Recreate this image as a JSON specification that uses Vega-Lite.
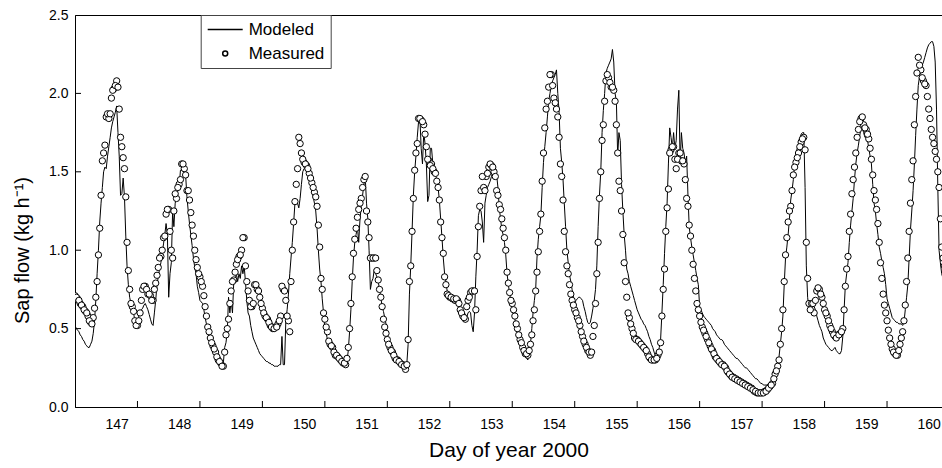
{
"$schema": "https://vega.github.io/schema/vega-lite/v6.json",
"width": 867, "height": 392,
"autosize": {"type": "none"},
"padding": {"left": 75, "top": 15, "right": 0, "bottom": 61},
"background": "white",
"config": {"font": "Liberation Sans", "view": {"stroke": "black", "strokeWidth": 1},
  "axis": {"domainColor": "black", "labelColor": "black", "titleColor": "black", "titleFontWeight": "normal", "labelFontSize": 14, "domainWidth": 1, "ticks": false, "grid": false}},
"data": {"values": [
{"t":146.000,"a":0.52,"b":0.71},{"t":146.042,"a":0.49,"b":0.69},{"t":146.083,"a":0.46,"b":0.66},{"t":146.125,"a":0.43,"b":0.64},{"t":146.167,"a":0.40,"b":0.61},{"t":146.208,"a":0.38,"b":0.58},{"t":146.250,"a":0.40,"b":0.54},{"t":146.292,"a":0.47,"b":0.57},{"t":146.333,"a":0.68,"b":0.70},{"t":146.375,"a":1.00,"b":0.97},{"t":146.417,"a":1.30,"b":1.35},{"t":146.458,"a":1.50,"b":1.62},{"t":146.500,"a":1.52,"b":1.85},{"t":146.542,"a":1.66,"b":1.84},{"t":146.583,"a":1.78,"b":1.97},{"t":146.625,"a":1.85,"b":2.03},{"t":146.667,"a":1.92,"b":2.08},{"t":146.708,"a":1.60,"b":1.90},{"t":146.750,"a":1.36,"b":1.66},{"t":146.792,"a":1.34,"b":1.52},{"t":146.833,"a":0.90,"b":1.05},{"t":146.875,"a":0.70,"b":0.75},{"t":146.917,"a":0.62,"b":0.64},{"t":146.958,"a":0.55,"b":0.55},
{"t":147.000,"a":0.53,"b":0.52},{"t":147.042,"a":0.60,"b":0.60},{"t":147.083,"a":0.63,"b":0.75},{"t":147.125,"a":0.66,"b":0.77},{"t":147.167,"a":0.62,"b":0.72},{"t":147.208,"a":0.56,"b":0.71},{"t":147.250,"a":0.52,"b":0.68},{"t":147.292,"a":0.68,"b":0.79},{"t":147.333,"a":0.83,"b":0.89},{"t":147.375,"a":0.92,"b":0.96},{"t":147.417,"a":1.04,"b":1.08},{"t":147.458,"a":1.17,"b":1.23},{"t":147.500,"a":0.70,"b":1.26},{"t":147.542,"a":0.92,"b":1.00},{"t":147.583,"a":1.15,"b":1.25},{"t":147.625,"a":1.34,"b":1.33},{"t":147.667,"a":1.40,"b":1.42},{"t":147.708,"a":1.51,"b":1.55},{"t":147.750,"a":1.51,"b":1.52},{"t":147.792,"a":1.34,"b":1.38},{"t":147.833,"a":1.17,"b":1.32},{"t":147.875,"a":1.03,"b":1.16},{"t":147.917,"a":0.89,"b":1.00},{"t":147.958,"a":0.77,"b":0.89},
{"t":148.000,"a":0.68,"b":0.83},{"t":148.042,"a":0.66,"b":0.77},{"t":148.083,"a":0.57,"b":0.64},{"t":148.125,"a":0.50,"b":0.51},{"t":148.167,"a":0.45,"b":0.44},{"t":148.208,"a":0.42,"b":0.39},{"t":148.250,"a":0.38,"b":0.35},{"t":148.292,"a":0.34,"b":0.30},{"t":148.333,"a":0.30,"b":0.28},{"t":148.375,"a":0.28,"b":0.26},{"t":148.417,"a":0.41,"b":0.46},{"t":148.458,"a":0.70,"b":0.56},{"t":148.500,"a":0.68,"b":0.74},{"t":148.542,"a":0.80,"b":0.81},{"t":148.583,"a":0.85,"b":0.91},{"t":148.625,"a":0.85,"b":0.96},{"t":148.667,"a":0.90,"b":1.00},{"t":148.708,"a":0.90,"b":1.08},{"t":148.750,"a":0.68,"b":0.80},{"t":148.792,"a":0.58,"b":0.68},{"t":148.833,"a":0.48,"b":0.64},{"t":148.875,"a":0.42,"b":0.78},{"t":148.917,"a":0.38,"b":0.75},{"t":148.958,"a":0.34,"b":0.70},
{"t":149.000,"a":0.32,"b":0.63},{"t":149.042,"a":0.30,"b":0.58},{"t":149.083,"a":0.29,"b":0.56},{"t":149.125,"a":0.28,"b":0.52},{"t":149.167,"a":0.27,"b":0.50},{"t":149.208,"a":0.26,"b":0.51},{"t":149.250,"a":0.26,"b":0.53},{"t":149.292,"a":0.27,"b":0.58},{"t":149.333,"a":0.27,"b":0.75},{"t":149.375,"a":0.55,"b":0.68},{"t":149.417,"a":0.72,"b":0.55},{"t":149.458,"a":0.95,"b":0.80},{"t":149.500,"a":1.17,"b":1.18},{"t":149.542,"a":1.32,"b":1.42},{"t":149.583,"a":1.27,"b":1.72},{"t":149.625,"a":1.42,"b":1.62},{"t":149.667,"a":1.52,"b":1.56},{"t":149.708,"a":1.51,"b":1.54},{"t":149.750,"a":1.47,"b":1.49},{"t":149.792,"a":1.37,"b":1.43},{"t":149.833,"a":1.30,"b":1.37},{"t":149.875,"a":1.14,"b":1.28},{"t":149.917,"a":0.88,"b":1.02},{"t":149.958,"a":0.69,"b":0.75},
{"t":150.000,"a":0.50,"b":0.56},{"t":150.042,"a":0.43,"b":0.48},{"t":150.083,"a":0.40,"b":0.40},{"t":150.125,"a":0.37,"b":0.38},{"t":150.167,"a":0.35,"b":0.33},{"t":150.208,"a":0.33,"b":0.32},{"t":150.250,"a":0.31,"b":0.30},{"t":150.292,"a":0.29,"b":0.28},{"t":150.333,"a":0.28,"b":0.27},{"t":150.375,"a":0.36,"b":0.38},{"t":150.417,"a":0.62,"b":0.66},{"t":150.458,"a":0.95,"b":0.98},{"t":150.500,"a":1.10,"b":1.14},{"t":150.542,"a":1.05,"b":1.26},{"t":150.583,"a":1.28,"b":1.33},{"t":150.625,"a":1.42,"b":1.45},{"t":150.667,"a":1.30,"b":1.25},{"t":150.708,"a":1.00,"b":1.08},{"t":150.750,"a":0.80,"b":0.95},{"t":150.792,"a":0.88,"b":0.95},{"t":150.833,"a":0.83,"b":0.87},{"t":150.875,"a":0.75,"b":0.75},{"t":150.917,"a":0.64,"b":0.64},{"t":150.958,"a":0.57,"b":0.51},
{"t":151.000,"a":0.45,"b":0.43},{"t":151.042,"a":0.40,"b":0.38},{"t":151.083,"a":0.37,"b":0.35},{"t":151.125,"a":0.34,"b":0.31},{"t":151.167,"a":0.31,"b":0.30},{"t":151.208,"a":0.29,"b":0.28},{"t":151.250,"a":0.27,"b":0.27},{"t":151.292,"a":0.25,"b":0.24},{"t":151.333,"a":0.40,"b":0.43},{"t":151.375,"a":0.90,"b":0.90},{"t":151.417,"a":1.35,"b":1.33},{"t":151.458,"a":1.60,"b":1.62},{"t":151.500,"a":1.82,"b":1.84},{"t":151.542,"a":1.65,"b":1.83},{"t":151.583,"a":1.75,"b":1.80},{"t":151.625,"a":1.55,"b":1.66},{"t":151.667,"a":1.35,"b":1.57},{"t":151.708,"a":1.65,"b":1.55},{"t":151.750,"a":1.52,"b":1.50},{"t":151.792,"a":1.45,"b":1.44},{"t":151.833,"a":1.32,"b":1.32},{"t":151.875,"a":1.08,"b":1.08},{"t":151.917,"a":0.85,"b":0.83},{"t":151.958,"a":0.74,"b":0.72},
{"t":152.000,"a":0.71,"b":0.70},{"t":152.042,"a":0.68,"b":0.69},{"t":152.083,"a":0.66,"b":0.68},{"t":152.125,"a":0.65,"b":0.68},{"t":152.167,"a":0.63,"b":0.62},{"t":152.208,"a":0.57,"b":0.58},{"t":152.250,"a":0.54,"b":0.56},{"t":152.292,"a":0.60,"b":0.68},{"t":152.333,"a":0.60,"b":0.73},{"t":152.375,"a":0.48,"b":0.74},{"t":152.417,"a":0.83,"b":0.62},{"t":152.458,"a":1.22,"b":1.15},{"t":152.500,"a":1.25,"b":1.38},{"t":152.542,"a":1.05,"b":1.40},{"t":152.583,"a":1.35,"b":1.47},{"t":152.625,"a":1.42,"b":1.53},{"t":152.667,"a":1.47,"b":1.54},{"t":152.708,"a":1.52,"b":1.50},{"t":152.750,"a":1.48,"b":1.38},{"t":152.792,"a":1.27,"b":1.29},{"t":152.833,"a":1.13,"b":1.20},{"t":152.875,"a":1.05,"b":1.08},{"t":152.917,"a":0.85,"b":0.86},{"t":152.958,"a":0.72,"b":0.73},
{"t":153.000,"a":0.64,"b":0.66},{"t":153.042,"a":0.56,"b":0.58},{"t":153.083,"a":0.49,"b":0.50},{"t":153.125,"a":0.43,"b":0.43},{"t":153.167,"a":0.37,"b":0.38},{"t":153.208,"a":0.32,"b":0.34},{"t":153.250,"a":0.30,"b":0.33},{"t":153.292,"a":0.40,"b":0.40},{"t":153.333,"a":0.60,"b":0.55},{"t":153.375,"a":0.75,"b":0.74},{"t":153.417,"a":1.07,"b":0.99},{"t":153.458,"a":1.22,"b":1.23},{"t":153.500,"a":1.56,"b":1.62},{"t":153.542,"a":1.75,"b":1.90},{"t":153.583,"a":1.95,"b":2.04},{"t":153.625,"a":2.05,"b":2.12},{"t":153.667,"a":2.10,"b":1.97},{"t":153.708,"a":2.15,"b":1.90},{"t":153.750,"a":1.88,"b":1.72},{"t":153.792,"a":1.56,"b":1.47},{"t":153.833,"a":1.30,"b":1.12},{"t":153.875,"a":1.00,"b":0.90},{"t":153.917,"a":0.84,"b":0.78},{"t":153.958,"a":0.75,"b":0.68},
{"t":154.000,"a":0.66,"b":0.62},{"t":154.042,"a":0.69,"b":0.57},{"t":154.083,"a":0.70,"b":0.52},{"t":154.125,"a":0.68,"b":0.45},{"t":154.167,"a":0.61,"b":0.40},{"t":154.208,"a":0.54,"b":0.36},{"t":154.250,"a":0.54,"b":0.33},{"t":154.292,"a":0.63,"b":0.45},{"t":154.333,"a":0.75,"b":0.66},{"t":154.375,"a":1.15,"b":1.05},{"t":154.417,"a":1.50,"b":1.50},{"t":154.458,"a":1.89,"b":1.80},{"t":154.500,"a":2.13,"b":2.08},{"t":154.542,"a":2.18,"b":2.10},{"t":154.583,"a":2.22,"b":2.04},{"t":154.625,"a":2.20,"b":2.02},{"t":154.667,"a":1.95,"b":1.80},{"t":154.708,"a":1.75,"b":1.44},{"t":154.750,"a":1.42,"b":1.25},{"t":154.792,"a":1.10,"b":0.92},{"t":154.833,"a":0.88,"b":0.70},{"t":154.875,"a":0.80,"b":0.57},{"t":154.917,"a":0.74,"b":0.50},{"t":154.958,"a":0.68,"b":0.44},
{"t":155.000,"a":0.62,"b":0.43},{"t":155.042,"a":0.58,"b":0.41},{"t":155.083,"a":0.55,"b":0.39},{"t":155.125,"a":0.52,"b":0.37},{"t":155.167,"a":0.48,"b":0.34},{"t":155.208,"a":0.43,"b":0.31},{"t":155.250,"a":0.38,"b":0.30},{"t":155.292,"a":0.33,"b":0.30},{"t":155.333,"a":0.34,"b":0.33},{"t":155.375,"a":0.43,"b":0.41},{"t":155.417,"a":0.78,"b":0.75},{"t":155.458,"a":1.15,"b":1.12},{"t":155.500,"a":1.55,"b":1.39},{"t":155.542,"a":1.72,"b":1.64},{"t":155.583,"a":1.75,"b":1.66},{"t":155.625,"a":1.70,"b":1.52},{"t":155.667,"a":2.02,"b":1.62},{"t":155.708,"a":1.75,"b":1.57},{"t":155.750,"a":1.62,"b":1.55},{"t":155.792,"a":1.60,"b":1.33},{"t":155.833,"a":1.15,"b":1.16},{"t":155.875,"a":1.02,"b":1.00},{"t":155.917,"a":0.92,"b":0.82},{"t":155.958,"a":0.82,"b":0.66},
{"t":156.000,"a":0.64,"b":0.58},{"t":156.042,"a":0.60,"b":0.51},{"t":156.083,"a":0.57,"b":0.47},{"t":156.125,"a":0.55,"b":0.43},{"t":156.167,"a":0.53,"b":0.39},{"t":156.208,"a":0.50,"b":0.36},{"t":156.250,"a":0.48,"b":0.32},{"t":156.292,"a":0.45,"b":0.30},{"t":156.333,"a":0.43,"b":0.28},{"t":156.375,"a":0.42,"b":0.27},{"t":156.417,"a":0.39,"b":0.25},{"t":156.458,"a":0.37,"b":0.22},{"t":156.500,"a":0.35,"b":0.20},{"t":156.542,"a":0.33,"b":0.19},{"t":156.583,"a":0.31,"b":0.18},{"t":156.625,"a":0.30,"b":0.17},{"t":156.667,"a":0.28,"b":0.16},{"t":156.708,"a":0.26,"b":0.15},{"t":156.750,"a":0.25,"b":0.14},{"t":156.792,"a":0.23,"b":0.13},{"t":156.833,"a":0.21,"b":0.12},{"t":156.875,"a":0.19,"b":0.10},{"t":156.917,"a":0.18,"b":0.09},{"t":156.958,"a":0.16,"b":0.09},
{"t":157.000,"a":0.15,"b":0.09},{"t":157.042,"a":0.14,"b":0.10},{"t":157.083,"a":0.14,"b":0.11},{"t":157.125,"a":0.15,"b":0.13},{"t":157.167,"a":0.17,"b":0.15},{"t":157.208,"a":0.21,"b":0.21},{"t":157.250,"a":0.27,"b":0.26},{"t":157.292,"a":0.40,"b":0.40},{"t":157.333,"a":0.58,"b":0.62},{"t":157.375,"a":0.95,"b":0.97},{"t":157.417,"a":1.10,"b":1.18},{"t":157.458,"a":1.32,"b":1.28},{"t":157.500,"a":1.45,"b":1.48},{"t":157.542,"a":1.62,"b":1.56},{"t":157.583,"a":1.68,"b":1.62},{"t":157.625,"a":1.74,"b":1.69},{"t":157.667,"a":1.75,"b":1.72},{"t":157.708,"a":0.90,"b":1.05},{"t":157.750,"a":0.62,"b":0.66},{"t":157.792,"a":0.65,"b":0.66},{"t":157.833,"a":0.64,"b":0.60},{"t":157.875,"a":0.58,"b":0.74},{"t":157.917,"a":0.52,"b":0.75},{"t":157.958,"a":0.48,"b":0.70},
{"t":158.000,"a":0.42,"b":0.62},{"t":158.042,"a":0.39,"b":0.58},{"t":158.083,"a":0.37,"b":0.52},{"t":158.125,"a":0.36,"b":0.48},{"t":158.167,"a":0.38,"b":0.45},{"t":158.208,"a":0.35,"b":0.46},{"t":158.250,"a":0.34,"b":0.47},{"t":158.292,"a":0.45,"b":0.50},{"t":158.333,"a":0.78,"b":0.77},{"t":158.375,"a":0.92,"b":0.96},{"t":158.417,"a":1.16,"b":1.23},{"t":158.458,"a":1.33,"b":1.45},{"t":158.500,"a":1.55,"b":1.62},{"t":158.542,"a":1.67,"b":1.77},{"t":158.583,"a":1.78,"b":1.84},{"t":158.625,"a":1.75,"b":1.80},{"t":158.667,"a":1.72,"b":1.77},{"t":158.708,"a":1.65,"b":1.71},{"t":158.750,"a":1.55,"b":1.58},{"t":158.792,"a":1.30,"b":1.38},{"t":158.833,"a":1.17,"b":1.26},{"t":158.875,"a":1.02,"b":1.05},{"t":158.917,"a":0.93,"b":0.82},{"t":158.958,"a":0.85,"b":0.65},
{"t":159.000,"a":0.69,"b":0.55},{"t":159.042,"a":0.63,"b":0.44},{"t":159.083,"a":0.57,"b":0.37},{"t":159.125,"a":0.55,"b":0.34},{"t":159.167,"a":0.54,"b":0.33},{"t":159.208,"a":0.53,"b":0.40},{"t":159.250,"a":0.52,"b":0.48},{"t":159.292,"a":0.62,"b":0.65},{"t":159.333,"a":0.78,"b":0.95},{"t":159.375,"a":1.13,"b":1.30},{"t":159.417,"a":1.38,"b":1.57},{"t":159.458,"a":1.73,"b":1.98},{"t":159.500,"a":2.05,"b":2.23},{"t":159.542,"a":2.15,"b":2.15},{"t":159.583,"a":2.20,"b":2.08},{"t":159.625,"a":2.26,"b":2.05},{"t":159.667,"a":2.31,"b":1.90},{"t":159.708,"a":2.33,"b":1.77},{"t":159.750,"a":2.30,"b":1.68},{"t":159.792,"a":1.90,"b":1.58},{"t":159.833,"a":1.00,"b":1.40},{"t":159.875,"a":0.85,"b":1.02},{"t":159.917,"a":0.80,"b":0.90},
{"t":146.021,"a":0.50,"b":0.70},{"t":146.063,"a":0.48,"b":0.68},{"t":146.104,"a":0.45,"b":0.65},{"t":146.146,"a":0.42,"b":0.62},{"t":146.188,"a":0.39,"b":0.60},{"t":146.229,"a":0.38,"b":0.55},{"t":146.271,"a":0.42,"b":0.53},{"t":146.313,"a":0.55,"b":0.63},{"t":146.354,"a":0.85,"b":0.80},{"t":146.396,"a":1.18,"b":1.14},{"t":146.438,"a":1.40,"b":1.57},{"t":146.479,"a":1.53,"b":1.67},{"t":146.521,"a":1.60,"b":1.87},{"t":146.563,"a":1.72,"b":1.87},{"t":146.604,"a":1.82,"b":2.02},{"t":146.646,"a":1.88,"b":2.05},{"t":146.688,"a":1.75,"b":2.04},{"t":146.729,"a":1.35,"b":1.72},{"t":146.771,"a":1.46,"b":1.59},{"t":146.813,"a":1.09,"b":1.34},{"t":146.854,"a":0.78,"b":0.87},{"t":146.896,"a":0.66,"b":0.66},{"t":146.938,"a":0.60,"b":0.61},{"t":146.979,"a":0.53,"b":0.52},
{"t":147.021,"a":0.58,"b":0.55},{"t":147.063,"a":0.62,"b":0.68},{"t":147.104,"a":0.65,"b":0.77},{"t":147.146,"a":0.64,"b":0.75},{"t":147.188,"a":0.59,"b":0.72},{"t":147.229,"a":0.53,"b":0.68},{"t":147.271,"a":0.60,"b":0.75},{"t":147.313,"a":0.78,"b":0.84},{"t":147.354,"a":0.88,"b":0.95},{"t":147.396,"a":0.98,"b":1.00},{"t":147.438,"a":1.10,"b":1.09},{"t":147.479,"a":1.10,"b":1.26},{"t":147.521,"a":0.85,"b":1.12},{"t":147.563,"a":1.25,"b":0.95},{"t":147.604,"a":1.30,"b":1.36},{"t":147.646,"a":1.38,"b":1.40},{"t":147.688,"a":1.51,"b":1.45},{"t":147.729,"a":1.53,"b":1.55},{"t":147.771,"a":1.48,"b":1.48},{"t":147.813,"a":1.25,"b":1.38},{"t":147.854,"a":1.10,"b":1.24},{"t":147.896,"a":0.95,"b":1.09},{"t":147.938,"a":0.85,"b":0.94},{"t":147.979,"a":0.73,"b":0.85},
{"t":148.021,"a":0.67,"b":0.80},{"t":148.063,"a":0.62,"b":0.71},{"t":148.104,"a":0.53,"b":0.58},{"t":148.146,"a":0.48,"b":0.48},{"t":148.188,"a":0.43,"b":0.41},{"t":148.229,"a":0.40,"b":0.37},{"t":148.271,"a":0.36,"b":0.32},{"t":148.313,"a":0.32,"b":0.29},{"t":148.354,"a":0.29,"b":0.26},{"t":148.396,"a":0.38,"b":0.35},{"t":148.438,"a":0.48,"b":0.50},{"t":148.479,"a":0.60,"b":0.66},{"t":148.521,"a":0.60,"b":0.80},{"t":148.563,"a":0.81,"b":0.86},{"t":148.604,"a":0.80,"b":0.94},{"t":148.646,"a":0.82,"b":0.97},{"t":148.688,"a":0.85,"b":1.08},{"t":148.729,"a":0.80,"b":0.90},{"t":148.771,"a":0.60,"b":0.74},{"t":148.813,"a":0.52,"b":0.64},{"t":148.854,"a":0.44,"b":0.66},{"t":148.896,"a":0.40,"b":0.78},{"t":148.938,"a":0.36,"b":0.74},{"t":148.979,"a":0.33,"b":0.66},
{"t":149.021,"a":0.31,"b":0.60},{"t":149.063,"a":0.29,"b":0.57},{"t":149.104,"a":0.28,"b":0.54},{"t":149.146,"a":0.27,"b":0.51},{"t":149.188,"a":0.26,"b":0.50},{"t":149.229,"a":0.26,"b":0.51},{"t":149.271,"a":0.27,"b":0.55},{"t":149.313,"a":0.45,"b":0.77},{"t":149.354,"a":0.27,"b":0.74},{"t":149.396,"a":0.62,"b":0.58},{"t":149.438,"a":0.85,"b":0.48},{"t":149.479,"a":1.05,"b":1.00},{"t":149.521,"a":1.30,"b":1.31},{"t":149.563,"a":1.30,"b":1.52},{"t":149.604,"a":1.33,"b":1.68},{"t":149.646,"a":1.50,"b":1.58},{"t":149.688,"a":1.52,"b":1.55},{"t":149.729,"a":1.49,"b":1.52},{"t":149.771,"a":1.42,"b":1.46},{"t":149.813,"a":1.34,"b":1.40},{"t":149.854,"a":1.25,"b":1.34},{"t":149.896,"a":1.00,"b":1.16},{"t":149.938,"a":0.80,"b":0.82},{"t":149.979,"a":0.60,"b":0.60},
{"t":150.021,"a":0.47,"b":0.51},{"t":150.063,"a":0.42,"b":0.42},{"t":150.104,"a":0.39,"b":0.39},{"t":150.146,"a":0.36,"b":0.35},{"t":150.188,"a":0.34,"b":0.33},{"t":150.229,"a":0.32,"b":0.31},{"t":150.271,"a":0.30,"b":0.29},{"t":150.313,"a":0.28,"b":0.28},{"t":150.354,"a":0.29,"b":0.31},{"t":150.396,"a":0.48,"b":0.50},{"t":150.438,"a":0.80,"b":0.83},{"t":150.479,"a":1.05,"b":1.07},{"t":150.521,"a":1.15,"b":1.21},{"t":150.563,"a":1.20,"b":1.30},{"t":150.604,"a":1.35,"b":1.40},{"t":150.646,"a":1.47,"b":1.47},{"t":150.688,"a":1.20,"b":1.18},{"t":150.729,"a":0.75,"b":0.95},{"t":150.771,"a":0.82,"b":0.95},{"t":150.813,"a":0.85,"b":0.95},{"t":150.854,"a":0.80,"b":0.81},{"t":150.896,"a":0.70,"b":0.70},{"t":150.938,"a":0.61,"b":0.56},{"t":150.979,"a":0.53,"b":0.47},
{"t":151.021,"a":0.43,"b":0.40},{"t":151.063,"a":0.38,"b":0.36},{"t":151.104,"a":0.35,"b":0.33},{"t":151.146,"a":0.32,"b":0.30},{"t":151.188,"a":0.30,"b":0.29},{"t":151.229,"a":0.28,"b":0.27},{"t":151.271,"a":0.26,"b":0.26},{"t":151.313,"a":0.28,"b":0.27},{"t":151.354,"a":0.72,"b":0.80},{"t":151.396,"a":1.12,"b":1.12},{"t":151.438,"a":1.50,"b":1.51},{"t":151.479,"a":1.72,"b":1.68},{"t":151.521,"a":1.85,"b":1.84},{"t":151.563,"a":1.55,"b":1.82},{"t":151.604,"a":1.68,"b":1.74},{"t":151.646,"a":1.31,"b":1.58},{"t":151.688,"a":1.65,"b":1.54},{"t":151.729,"a":1.55,"b":1.52},{"t":151.771,"a":1.48,"b":1.49},{"t":151.813,"a":1.40,"b":1.40},{"t":151.854,"a":1.20,"b":1.18},{"t":151.896,"a":0.95,"b":0.98},{"t":151.938,"a":0.80,"b":0.78},{"t":151.979,"a":0.73,"b":0.71},
{"t":152.021,"a":0.70,"b":0.70},{"t":152.063,"a":0.67,"b":0.69},{"t":152.104,"a":0.66,"b":0.69},{"t":152.146,"a":0.64,"b":0.66},{"t":152.188,"a":0.60,"b":0.60},{"t":152.229,"a":0.55,"b":0.57},{"t":152.271,"a":0.57,"b":0.64},{"t":152.313,"a":0.61,"b":0.70},{"t":152.354,"a":0.52,"b":0.74},{"t":152.396,"a":0.60,"b":0.74},{"t":152.438,"a":1.00,"b":0.96},{"t":152.479,"a":1.26,"b":1.28},{"t":152.521,"a":1.18,"b":1.47},{"t":152.563,"a":1.30,"b":1.38},{"t":152.604,"a":1.40,"b":1.49},{"t":152.646,"a":1.44,"b":1.55},{"t":152.688,"a":1.50,"b":1.53},{"t":152.729,"a":1.53,"b":1.47},{"t":152.771,"a":1.40,"b":1.35},{"t":152.813,"a":1.20,"b":1.26},{"t":152.854,"a":1.10,"b":1.14},{"t":152.896,"a":0.97,"b":1.00},{"t":152.938,"a":0.78,"b":0.79},{"t":152.979,"a":0.68,"b":0.68},
{"t":153.021,"a":0.60,"b":0.62},{"t":153.063,"a":0.52,"b":0.53},{"t":153.104,"a":0.46,"b":0.46},{"t":153.146,"a":0.40,"b":0.41},{"t":153.188,"a":0.34,"b":0.36},{"t":153.229,"a":0.31,"b":0.34},{"t":153.271,"a":0.35,"b":0.36},{"t":153.313,"a":0.50,"b":0.46},{"t":153.354,"a":0.68,"b":0.62},{"t":153.396,"a":0.95,"b":0.86},{"t":153.438,"a":1.15,"b":1.12},{"t":153.479,"a":1.40,"b":1.44},{"t":153.521,"a":1.66,"b":1.78},{"t":153.563,"a":1.85,"b":1.95},{"t":153.604,"a":2.00,"b":2.12},{"t":153.646,"a":2.08,"b":2.05},{"t":153.688,"a":2.12,"b":1.94},{"t":153.729,"a":2.00,"b":1.85},{"t":153.771,"a":1.65,"b":1.55},{"t":153.813,"a":1.45,"b":1.32},{"t":153.854,"a":1.15,"b":0.99},{"t":153.896,"a":0.92,"b":0.85},{"t":153.938,"a":0.80,"b":0.72},{"t":153.979,"a":0.70,"b":0.65},
{"t":154.021,"a":0.68,"b":0.60},{"t":154.063,"a":0.70,"b":0.55},{"t":154.104,"a":0.69,"b":0.48},{"t":154.146,"a":0.64,"b":0.42},{"t":154.188,"a":0.57,"b":0.38},{"t":154.229,"a":0.53,"b":0.35},{"t":154.271,"a":0.58,"b":0.35},{"t":154.313,"a":0.68,"b":0.52},{"t":154.354,"a":0.90,"b":0.85},{"t":154.396,"a":1.35,"b":1.33},{"t":154.438,"a":1.75,"b":1.70},{"t":154.479,"a":2.00,"b":1.95},{"t":154.521,"a":2.16,"b":2.12},{"t":154.563,"a":2.20,"b":2.07},{"t":154.604,"a":2.28,"b":2.04},{"t":154.646,"a":2.00,"b":1.95},{"t":154.688,"a":1.60,"b":1.62},{"t":154.729,"a":1.70,"b":1.38},{"t":154.771,"a":1.25,"b":1.10},{"t":154.813,"a":1.00,"b":0.80},{"t":154.854,"a":0.85,"b":0.60},{"t":154.896,"a":0.77,"b":0.53},{"t":154.938,"a":0.71,"b":0.47},{"t":154.979,"a":0.65,"b":0.43},
{"t":155.021,"a":0.60,"b":0.42},{"t":155.063,"a":0.56,"b":0.40},{"t":155.104,"a":0.53,"b":0.38},{"t":155.146,"a":0.50,"b":0.36},{"t":155.188,"a":0.45,"b":0.32},{"t":155.229,"a":0.40,"b":0.30},{"t":155.271,"a":0.35,"b":0.30},{"t":155.313,"a":0.32,"b":0.31},{"t":155.354,"a":0.38,"b":0.35},{"t":155.396,"a":0.60,"b":0.58},{"t":155.438,"a":0.98,"b":0.88},{"t":155.479,"a":1.30,"b":1.27},{"t":155.521,"a":1.78,"b":1.62},{"t":155.563,"a":1.65,"b":1.66},{"t":155.604,"a":1.65,"b":1.58},{"t":155.646,"a":1.90,"b":1.58},{"t":155.688,"a":1.55,"b":1.62},{"t":155.729,"a":1.65,"b":1.57},{"t":155.771,"a":1.55,"b":1.45},{"t":155.813,"a":1.35,"b":1.28},{"t":155.854,"a":1.08,"b":1.09},{"t":155.896,"a":0.97,"b":0.91},{"t":155.938,"a":0.87,"b":0.74},{"t":155.979,"a":0.78,"b":0.62},
{"t":156.021,"a":0.62,"b":0.54},{"t":156.063,"a":0.58,"b":0.49},{"t":156.104,"a":0.56,"b":0.45},{"t":156.146,"a":0.54,"b":0.41},{"t":156.188,"a":0.52,"b":0.37},{"t":156.229,"a":0.49,"b":0.34},{"t":156.271,"a":0.46,"b":0.31},{"t":156.313,"a":0.44,"b":0.29},{"t":156.354,"a":0.43,"b":0.27},{"t":156.396,"a":0.40,"b":0.26},{"t":156.438,"a":0.38,"b":0.23},{"t":156.479,"a":0.36,"b":0.21},{"t":156.521,"a":0.34,"b":0.19},{"t":156.563,"a":0.32,"b":0.18},{"t":156.604,"a":0.31,"b":0.17},{"t":156.646,"a":0.29,"b":0.16},{"t":156.688,"a":0.27,"b":0.15},{"t":156.729,"a":0.25,"b":0.14},{"t":156.771,"a":0.24,"b":0.13},{"t":156.813,"a":0.22,"b":0.12},{"t":156.854,"a":0.20,"b":0.11},{"t":156.896,"a":0.18,"b":0.10},{"t":156.938,"a":0.17,"b":0.09},{"t":156.979,"a":0.15,"b":0.09},
{"t":157.021,"a":0.14,"b":0.09},{"t":157.063,"a":0.14,"b":0.10},{"t":157.104,"a":0.14,"b":0.12},{"t":157.146,"a":0.16,"b":0.14},{"t":157.188,"a":0.19,"b":0.18},{"t":157.229,"a":0.23,"b":0.23},{"t":157.271,"a":0.32,"b":0.30},{"t":157.313,"a":0.48,"b":0.50},{"t":157.354,"a":0.78,"b":0.80},{"t":157.396,"a":1.02,"b":1.08},{"t":157.438,"a":1.20,"b":1.25},{"t":157.479,"a":1.38,"b":1.38},{"t":157.521,"a":1.55,"b":1.53},{"t":157.563,"a":1.65,"b":1.59},{"t":157.604,"a":1.71,"b":1.66},{"t":157.646,"a":1.75,"b":1.71},{"t":157.688,"a":1.40,"b":1.64},{"t":157.729,"a":0.70,"b":0.82},{"t":157.771,"a":0.60,"b":0.62},{"t":157.813,"a":0.66,"b":0.66},{"t":157.854,"a":0.62,"b":0.68},{"t":157.896,"a":0.55,"b":0.76},{"t":157.938,"a":0.50,"b":0.72},{"t":157.979,"a":0.44,"b":0.66},
{"t":158.021,"a":0.40,"b":0.60},{"t":158.063,"a":0.38,"b":0.55},{"t":158.104,"a":0.36,"b":0.50},{"t":158.146,"a":0.37,"b":0.46},{"t":158.188,"a":0.36,"b":0.44},{"t":158.229,"a":0.34,"b":0.46},{"t":158.271,"a":0.36,"b":0.48},{"t":158.313,"a":0.62,"b":0.62},{"t":158.354,"a":0.85,"b":0.88},{"t":158.396,"a":1.05,"b":1.12},{"t":158.438,"a":1.25,"b":1.36},{"t":158.479,"a":1.45,"b":1.53},{"t":158.521,"a":1.62,"b":1.72},{"t":158.563,"a":1.73,"b":1.82},{"t":158.604,"a":1.78,"b":1.85},{"t":158.646,"a":1.72,"b":1.78},{"t":158.688,"a":1.70,"b":1.74},{"t":158.729,"a":1.60,"b":1.65},{"t":158.771,"a":1.42,"b":1.48},{"t":158.813,"a":1.25,"b":1.32},{"t":158.854,"a":1.10,"b":1.17},{"t":158.896,"a":0.98,"b":0.92},{"t":158.938,"a":0.89,"b":0.72},{"t":158.979,"a":0.78,"b":0.60},
{"t":159.021,"a":0.66,"b":0.49},{"t":159.063,"a":0.60,"b":0.40},{"t":159.104,"a":0.56,"b":0.35},{"t":159.146,"a":0.54,"b":0.33},{"t":159.188,"a":0.53,"b":0.36},{"t":159.229,"a":0.53,"b":0.44},{"t":159.271,"a":0.54,"b":0.55},{"t":159.313,"a":0.70,"b":0.80},{"t":159.354,"a":0.95,"b":1.12},{"t":159.396,"a":1.25,"b":1.45},{"t":159.438,"a":1.55,"b":1.80},{"t":159.479,"a":1.90,"b":2.13},{"t":159.521,"a":2.11,"b":2.18},{"t":159.563,"a":2.18,"b":2.10},{"t":159.604,"a":2.23,"b":2.06},{"t":159.646,"a":2.29,"b":1.98},{"t":159.688,"a":2.32,"b":1.84},{"t":159.729,"a":2.33,"b":1.72},{"t":159.771,"a":2.20,"b":1.63},{"t":159.813,"a":1.40,"b":1.50},{"t":159.854,"a":0.92,"b":1.20},{"t":159.896,"a":0.82,"b":0.95}
]},
"layer": [
 {"mark": {"type": "line", "color": "black", "strokeWidth": 1, "clip": true},
  "encoding": {
   "x": {"field": "t", "type": "quantitative", "title": "Day of year 2000",
     "scale": {"domain": [146, 159.88], "nice": false, "zero": false},
     "axis": {"titleFontSize": 21, "titlePadding": 8,
       "values": [146.667,147.667,148.667,149.667,150.667,151.667,152.667,153.667,154.667,155.667,156.667,157.667,158.667,159.667],
       "labelExpr": "format(round(datum.value), 'd')",
       "labelPadding": 10, "labelFlush": false, "labelOverlap": false}},
   "y": {"field": "a", "type": "quantitative", "title": "Sap flow (kg h⁻¹)",
     "scale": {"domain": [0, 2.5], "nice": false},
     "axis": {"titleFontSize": 20, "values": [0, 0.5, 1, 1.5, 2, 2.5], "format": ".1f",
       "labelPadding": 7, "titleX": -53, "titleY": 235, "titleBaseline": "middle"}}
  }},
 {"data": {"values": [{"v":147},{"v":148},{"v":149},{"v":150},{"v":151},{"v":152},{"v":153},{"v":154},{"v":155},{"v":156},{"v":157},{"v":158},{"v":159}]},
  "mark": {"type": "tick", "orient": "vertical", "color": "black", "size": 6, "thickness": 1, "opacity": 1, "yOffset": -3},
  "encoding": {
   "x": {"field": "v", "type": "quantitative", "title": "Day of year 2000"},
   "y": {"datum": 0, "type": "quantitative", "title": "Sap flow (kg h⁻¹)"}
  }},
 {"data": {"values": [{"v":0.5,"u":146},{"v":1.0,"u":146},{"v":1.5,"u":146},{"v":2.0,"u":146}]},
  "mark": {"type": "tick", "orient": "horizontal", "color": "black", "size": 6, "thickness": 1, "opacity": 1, "xOffset": 3},
  "encoding": {
   "x": {"field": "u", "type": "quantitative", "title": "Day of year 2000"},
   "y": {"field": "v", "type": "quantitative", "title": "Sap flow (kg h⁻¹)"}
  }},
 {"mark": {"type": "point", "filled": true, "fill": "white", "stroke": "black", "strokeWidth": 1, "size": 40, "opacity": 1, "clip": true},
  "encoding": {
   "x": {"field": "t", "type": "quantitative", "title": "Day of year 2000"},
   "y": {"field": "b", "type": "quantitative", "title": "Sap flow (kg h⁻¹)"}
  }},
 {"data": {"values": []},
  "mark": {"type": "point", "filled": false, "color": "black", "strokeWidth": 1, "opacity": 1},
  "encoding": {
   "shape": {"datum": "Measured", "type": "nominal",
     "scale": {"domain": ["Modeled", "Measured"], "range": ["stroke", "M0.143,0A0.143,0.143,0,1,1,-0.143,0A0.143,0.143,0,1,1,0.143,0Z"]},
     "legend": {"orient": "none", "legendX": 125.7, "legendY": 0, "title": null, "padding": 6, "rowPadding": 6, "clipHeight": 17,
       "symbolSize": 1225, "labelOffset": 5,
       "labelFontSize": 17, "labelColor": "black",
       "labelFont": "Liberation Sans", "strokeColor": "#444", "fillColor": "white"}}
  }}
]
}
